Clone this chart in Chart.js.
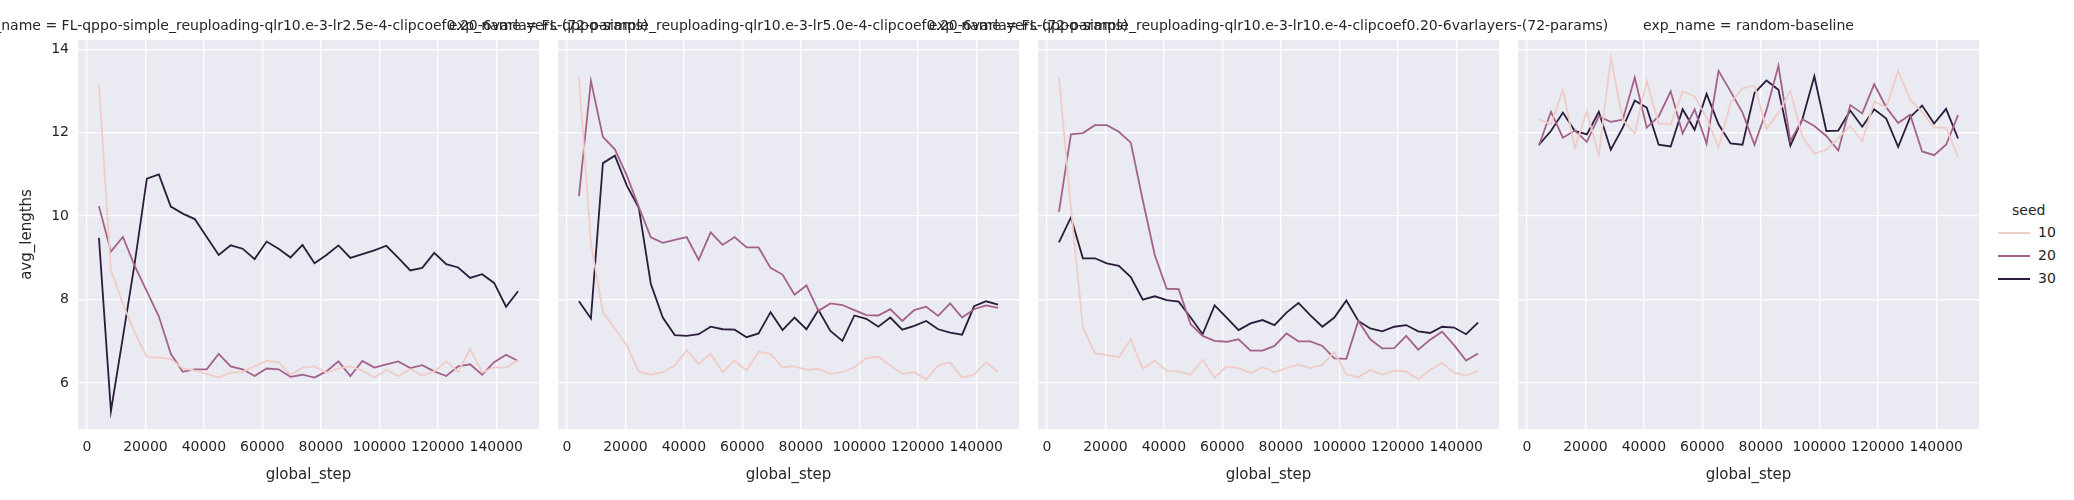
<!DOCTYPE html>
<html>
<head>
<meta charset="utf-8">
<script src="https://cdn.jsdelivr.net/npm/chart.js@4.4.1/dist/chart.umd.min.js"></script>
<style>
  body { margin: 0; background: #fff; width: 2074px; height: 500px; position: relative; overflow: hidden; font-family: "DejaVu Sans", sans-serif; color: #262626; }
  canvas { position: absolute; top: 0; }
  .ttl { position: absolute; top: 17px; white-space: nowrap; font-size: 14px; transform: translateX(-50%); }
  .leg { position: absolute; font-size: 14px; }
  .leg span { display: inline-block; width: 32px; height: 2px; vertical-align: middle; margin-right: 8px; }
</style>
</head>
<body>
<script>
// global steps shared by every panel
const steps = Array.from({length: 36}, (_, i) => 4096 * (i + 1));
const seeds = ['10', '20', '30'];
const seedColors = ['#efcdc6', '#a4628a', '#2b1c3b'];
const xTicks = [0, 20000, 40000, 60000, 80000, 100000, 120000, 140000];
const yTicks = [6, 8, 10, 12, 14];

const panelTitles = [
    'exp_name = FL-qppo-simple_reuploading-qlr10.e-3-lr2.5e-4-clipcoef0.20-6varlayers-(72-params)',
    'exp_name = FL-qppo-simple_reuploading-qlr10.e-3-lr5.0e-4-clipcoef0.20-6varlayers-(72-params)',
    'exp_name = FL-qppo-simple_reuploading-qlr10.e-3-lr10.e-4-clipcoef0.20-6varlayers-(72-params)',
    'exp_name = random-baseline'
];

// panel 1: lr2.5e-4
const p1s10 = [13.15, 8.7, 7.9, 7.2, 6.63, 6.61, 6.58, 6.35, 6.3, 6.22, 6.13, 6.25, 6.27, 6.4, 6.53, 6.5, 6.2, 6.37, 6.4, 6.25, 6.35, 6.4, 6.3, 6.13, 6.32, 6.17, 6.33, 6.18, 6.28, 6.52, 6.27, 6.82, 6.25, 6.38, 6.37, 6.55];
const p1s20 = [10.24, 9.15, 9.5, 8.8, 8.2, 7.6, 6.7, 6.27, 6.33, 6.33, 6.7, 6.4, 6.33, 6.17, 6.35, 6.33, 6.15, 6.2, 6.13, 6.28, 6.52, 6.17, 6.53, 6.37, 6.45, 6.52, 6.36, 6.43, 6.28, 6.17, 6.4, 6.45, 6.2, 6.5, 6.68, 6.53];
const p1s30 = [9.48, 5.33, 7.1, 8.9, 10.9, 11.0, 10.23, 10.06, 9.93, 9.5, 9.07, 9.3, 9.22, 8.97, 9.39, 9.22, 9.01, 9.31, 8.87, 9.07, 9.3, 9.0, 9.09, 9.18, 9.29, 9.0, 8.7, 8.76, 9.12, 8.85, 8.77, 8.52, 8.61, 8.4, 7.83, 8.2];

// panel 2: lr5.0e-4
const p2s10 = [13.33, 9.35, 7.7, 7.3, 6.9, 6.28, 6.2, 6.26, 6.42, 6.79, 6.46, 6.7, 6.26, 6.54, 6.3, 6.75, 6.7, 6.38, 6.4, 6.32, 6.34, 6.22, 6.26, 6.38, 6.6, 6.63, 6.42, 6.22, 6.26, 6.09, 6.42, 6.5, 6.13, 6.2, 6.5, 6.26];
const p2s20 = [10.48, 13.24, 11.9, 11.6, 10.97, 10.22, 9.49, 9.36, 9.43, 9.5, 8.95, 9.61, 9.31, 9.5, 9.25, 9.25, 8.76, 8.6, 8.12, 8.34, 7.73, 7.91, 7.87, 7.75, 7.63, 7.62, 7.77, 7.49, 7.75, 7.83, 7.61, 7.91, 7.57, 7.77, 7.86, 7.8];
const p2s30 = [7.96, 7.55, 11.27, 11.45, 10.73, 10.2, 8.38, 7.57, 7.15, 7.13, 7.17, 7.35, 7.29, 7.28, 7.1, 7.19, 7.7, 7.27, 7.57, 7.29, 7.75, 7.25, 7.01, 7.62, 7.54, 7.35, 7.57, 7.28, 7.37, 7.49, 7.29, 7.21, 7.16, 7.84, 7.96, 7.88];

// panel 3: lr10.e-4
const p3s10 = [13.32, 10.2, 7.33, 6.71, 6.67, 6.62, 7.05, 6.34, 6.54, 6.29, 6.28, 6.2, 6.56, 6.13, 6.4, 6.36, 6.24, 6.38, 6.26, 6.36, 6.44, 6.36, 6.44, 6.74, 6.21, 6.14, 6.32, 6.2, 6.3, 6.28, 6.09, 6.32, 6.48, 6.25, 6.18, 6.29];
const p3s20 = [10.1, 11.96, 11.99, 12.18, 12.18, 12.02, 11.76, 10.38, 9.07, 8.26, 8.25, 7.41, 7.13, 7.01, 6.99, 7.05, 6.78, 6.78, 6.89, 7.19, 7.0, 7.0, 6.89, 6.59, 6.58, 7.49, 7.05, 6.83, 6.84, 7.13, 6.8, 7.04, 7.23, 6.91, 6.54, 6.71];
const p3s30 = [9.37, 9.97, 8.99, 8.99, 8.87, 8.81, 8.54, 8.0, 8.08, 7.99, 7.95, 7.57, 7.17, 7.86, 7.57, 7.27, 7.43, 7.51, 7.39, 7.69, 7.92, 7.62, 7.35, 7.57, 7.98, 7.49, 7.31, 7.24, 7.35, 7.39, 7.24, 7.2, 7.35, 7.33, 7.17, 7.45];

// panel 4: random baseline
const p4s10 = [12.32, 12.2, 13.03, 11.63, 12.52, 11.45, 13.8, 12.31, 11.98, 13.24, 12.22, 12.2, 12.99, 12.87, 12.36, 11.64, 12.71, 13.06, 13.13, 12.09, 12.48, 13.0, 11.9, 11.5, 11.59, 11.87, 12.16, 11.8, 12.74, 12.61, 13.48, 12.79, 12.5, 12.12, 12.12, 11.42];
const p4s20 = [11.69, 12.5, 11.88, 12.05, 11.78, 12.39, 12.26, 12.31, 13.32, 12.12, 12.39, 12.99, 11.98, 12.56, 11.74, 13.48, 12.99, 12.48, 11.71, 12.54, 13.6, 11.8, 12.32, 12.16, 11.92, 11.57, 12.66, 12.46, 13.16, 12.61, 12.23, 12.43, 11.55, 11.46, 11.71, 12.42];
const p4s30 = [11.71, 12.04, 12.48, 12.04, 11.96, 12.5, 11.59, 12.12, 12.77, 12.6, 11.71, 11.67, 12.56, 12.07, 12.93, 12.2, 11.74, 11.71, 12.95, 13.25, 13.03, 11.69, 12.32, 13.35, 12.04, 12.05, 12.53, 12.14, 12.56, 12.34, 11.66, 12.37, 12.65, 12.22, 12.57, 11.86];

const panels = [[p1s10, p1s20, p1s30], [p2s10, p2s20, p2s30], [p3s10, p3s20, p3s30], [p4s10, p4s20, p4s30]];
const panelLeft = [78, 558, 1038, 1518];
const panelWidth = 461;
const yAxisW = 64;
const padL = 14;

const tickFont = {family: 'DejaVu Sans', size: 14};

panels.forEach((series, p) => {
    const cv = document.createElement('canvas');
    const w = padL + yAxisW + panelWidth + 4;
    cv.style.left = (panelLeft[p] - yAxisW - padL) + 'px';
    cv.style.width = w + 'px';
    cv.style.height = '500px';
    cv.width = w; cv.height = 500;
    document.body.appendChild(cv);

    const t = document.createElement('div');
    t.className = 'ttl';
    t.style.left = (panelLeft[p] + panelWidth / 2) + 'px';
    t.textContent = panelTitles[p];
    document.body.appendChild(t);

    new Chart(cv.getContext('2d'), {
        type: 'line',
        data: {
            datasets: series.map((vals, i) => ({
                label: seeds[i],
                data: vals.map((v, j) => ({x: steps[j], y: v})),
                borderColor: seedColors[i],
                borderWidth: 1.8,
                pointRadius: 0,
                tension: 0,
                fill: false
            }))
        },
        options: {
            responsive: false,
            animation: false,
            devicePixelRatio: 1,
            layout: {padding: {top: 40, right: 4, left: padL, bottom: 16}},
            plugins: {legend: {display: false}, tooltip: {enabled: false}},
            scales: {
                x: {
                    type: 'linear',
                    min: -3072, max: 154624,
                    afterBuildTicks: a => { a.ticks = xTicks.map(v => ({value: v})); },
                    afterFit: a => { a.height = 55; },
                    grid: {color: '#ffffff', lineWidth: 1.3, drawTicks: false},
                    border: {display: false},
                    ticks: {font: tickFont, color: '#262626', padding: 10, maxRotation: 0, autoSkip: false,
                            callback: v => String(v)},
                    title: {display: true, text: 'global_step', font: {family: 'DejaVu Sans', size: 15}, color: '#262626', padding: {top: 0, bottom: 0}}
                },
                y: {
                    min: 4.9, max: 14.22,
                    afterBuildTicks: a => { a.ticks = yTicks.map(v => ({value: v})); },
                    afterFit: a => { a.width = yAxisW; },
                    grid: {color: '#ffffff', lineWidth: 1.3, drawTicks: false},
                    border: {display: false},
                    ticks: {display: p === 0, font: tickFont, color: '#262626', padding: 9},
                    title: {display: p === 0, text: 'avg_lengths', font: {family: 'DejaVu Sans', size: 15}, color: '#262626'}
                }
            }
        },
        plugins: [{
            id: 'bg',
            beforeDraw: c => {
                const a = c.chartArea, g = c.ctx;
                g.save(); g.fillStyle = '#eaeaf2';
                g.fillRect(a.left, a.top, a.right - a.left, a.bottom - a.top);
                g.restore();
            }
        }]
    });
});

// legend
const lg = document.createElement('div');
lg.className = 'leg';
lg.style.left = '1998px'; lg.style.top = '202px';
lg.innerHTML = '<div style="margin-left:14px;margin-bottom:6px">seed</div>' +
    seeds.map((s, i) => '<div style="height:23px"><span style="background:' + seedColors[i] + '"></span>' + s + '</div>').join('');
document.body.appendChild(lg);
</script>
</body>
</html>
